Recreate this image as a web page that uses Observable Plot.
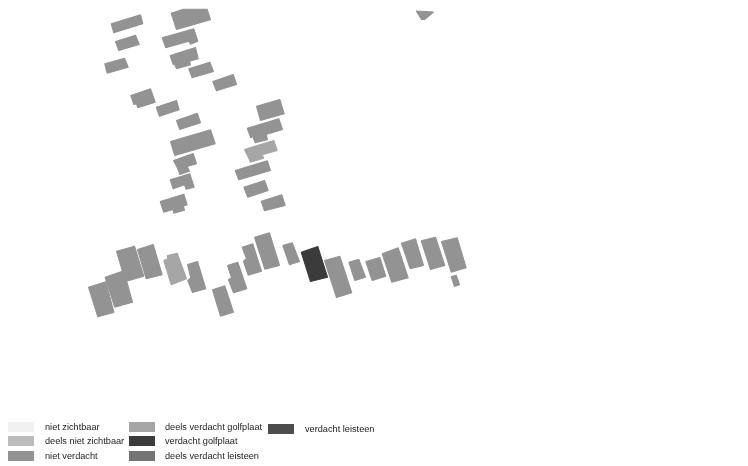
<!DOCTYPE html>
<html>
<head>
<meta charset="utf-8">
<script src="https://cdn.jsdelivr.net/npm/d3@7"></script>
<script src="https://cdn.jsdelivr.net/npm/@observablehq/plot@0.6"></script>
<style>
html,body{margin:0;padding:0;background:#fff;overflow:hidden}
#chart svg{display:block;filter:blur(0.5px)}
#legend{display:grid;grid-template-columns:121px 139px auto;grid-template-rows:14.5px 14.5px 14.5px;grid-auto-flow:column;
 padding:1.5px 0 0 8px;font:9.2px "Liberation Sans",Arial,sans-serif;color:#222;filter:blur(0.35px)}
.item{display:flex;align-items:center;white-space:nowrap}
.sw{width:26px;height:10px;margin-right:11px;flex:none}
.item:nth-child(4) .sw,.item:nth-child(5) .sw,.item:nth-child(6) .sw{margin-right:10px}
.item:last-child{margin-top:4px}
</style>
</head>
<body>
<div id="chart"></div>
<div id="legend"></div>
<script>
const categories = ["niet zichtbaar","deels niet zichtbaar","niet verdacht","deels verdacht golfplaat","verdacht golfplaat","deels verdacht leisteen","verdacht leisteen"];
const colours = ["#f1f1f1","#bcbcbc","#939393","#a6a6a6","#3b3b3b","#747474","#4c4c4c"];

const nietVerdacht = [
 [[110.7,23.3],[140,14.3],[142.3,23.3],[113.3,32.3]],
 [[115,41],[135,34.7],[138.7,44],[118.3,50]],
 [[104.3,63.3],[124,57.7],[127.7,66.7],[106.7,72.7]],
 [[170.7,12.7],[182.7,8.7],[206.7,8.7],[210,19.3],[176,29]],
 [[161.7,37.3],[193.3,28.3],[197.3,40.7],[190,43.7],[188.3,40.7],[165.3,47.3]],
 [[169.7,55],[195,47],[197.7,58.3],[189,60.7],[190,64.3],[176,68.3],[174,63.3],[172.7,64]],
 [[188.3,68.3],[209.3,61.7],[213,71],[191.7,77.3]],
 [[212.3,81],[232.7,74],[236,84],[216,90.3]],
 [[130.3,95],[150,88.3],[154.7,101.7],[137.3,107.3],[136,103.3],[133.3,104]],
 [[155.7,106.7],[176,100],[178.7,109.3],[159,115.7]],
 [[176,120],[196.7,112.7],[200,122.3],[179.3,129]],
 [[170,141],[210,129.3],[214.7,143.3],[174.3,155]],
 [[173,160],[192.7,153],[196,163.3],[186.7,166],[189,170.7],[179.3,174],[177.3,168.3]],
 [[169.7,179.3],[189.3,173.3],[193.7,186.7],[185.7,188.7],[184,184.3],[172.7,188.3]],
 [[159.7,201],[183.3,193.7],[186.7,204.3],[182.7,205.7],[184,209.7],[173.3,212.7],[172.3,209],[163.3,211.7]],
 [[256,105.7],[279.3,99],[283.7,113.3],[260,120]],
 [[246.7,127.7],[278.3,118.3],[282,129],[265.7,134],[267,139.3],[254.7,142.3],[252.3,135.7],[250.3,137.3]],
 [[234.7,170],[266.7,160.3],[270,170],[238.3,179.3]],
 [[243.3,186.7],[264,180],[267.7,190],[247.3,196.7]],
 [[260.7,200.7],[281.3,194.3],[284.7,205],[264,210.3]],
 [[88,286.7],[105.4,281.4],[113.4,312],[97.3,316.3]],
 [[104.6,276.7],[123.3,270.3],[132,301.7],[114.2,306.7]],
 [[116,250.7],[134,245.7],[143.3,275.7],[125,281]],
 [[137,249],[152.7,244],[161.7,274.3],[145.7,278.3]],
 [[187,264],[197,261],[205.3,288.3],[192,292],[187.3,280],[190.3,277.3]],
 [[212,289.3],[224.3,285.3],[233,311.7],[220,315.7]],
 [[227,265],[237.3,261.7],[246.3,288.3],[233,292.3],[228,279.3],[231,277.3]],
 [[241.7,246.7],[252.3,243.3],[261,270.7],[247.7,274.7],[243,260.7],[246,258.3]],
 [[254,236.7],[269,232.3],[279,265],[264.3,268.7]],
 [[282.3,245],[291.7,242.3],[299,261],[289,264.3]],
 [[324,260],[339.3,255.7],[351.3,292.3],[336,297]],
 [[348.3,261.7],[358.3,258.7],[365,276.7],[354.3,280]],
 [[365.3,261],[379.3,257],[385.3,275.7],[371.7,280]],
 [[381.7,253.3],[397.7,247.3],[407.7,277.3],[391.3,281.7]],
 [[401,242.7],[415,238.3],[423,265],[409.7,268.3]],
 [[420.7,240.3],[435,236.7],[444.3,265],[430,269]],
 [[441,241],[456.7,237.3],[465.7,267.3],[450.7,271.7]],
 [[450.7,276],[455.7,274.7],[459,284.3],[454,286]],
 [[415.7,10.5],[433,11.5],[424,19],[421,19]]
];
const deelsVerdachtGolfplaat = [
 [[244,149],[273.3,140],[276.7,150],[261.7,154.3],[263.3,157.7],[250,161.7],[248.3,157.7]],
 [[163.3,260],[167.3,258.3],[166.7,255],[176.7,252.7],[186,278.3],[170.7,284.3]]
];
const verdachtGolfplaat = [
 [[300.7,251.7],[317.3,246],[327,276.7],[310,281]]
];

const mapWidth = 748, mapHeight = 418;
const groups = [["niet verdacht",nietVerdacht],["deels verdacht golfplaat",deelsVerdachtGolfplaat],["verdacht golfplaat",verdachtGolfplaat]];
const vertices = groups.flatMap(([cat,polys],g)=>polys.flatMap((poly,i)=>poly.map(([x,y])=>({x,y,cat,id:`${g}-${i}`}))));

const plot = Plot.plot({
  width: mapWidth, height: mapHeight,
  margin: 0,
  x: {domain:[0,mapWidth], range:[0,mapWidth], axis:null},
  y: {domain:[0,mapHeight], range:[0,mapHeight], axis:null},
  color: {domain:categories, range:colours},
  marks: [
    Plot.line(vertices,{x:"x",y:"y",z:"id",fill:"cat",stroke:"cat",strokeWidth:1.1,strokeLinejoin:"miter",curve:"linear-closed"})
  ]
});
document.getElementById("chart").append(plot);

const legend = d3.select("#legend");
categories.forEach((c,i)=>{
  const it = legend.append("div").attr("class","item");
  it.append("span").attr("class","sw").style("background",colours[i]);
  it.append("span").text(c);
});
</script>
</body>
</html>
